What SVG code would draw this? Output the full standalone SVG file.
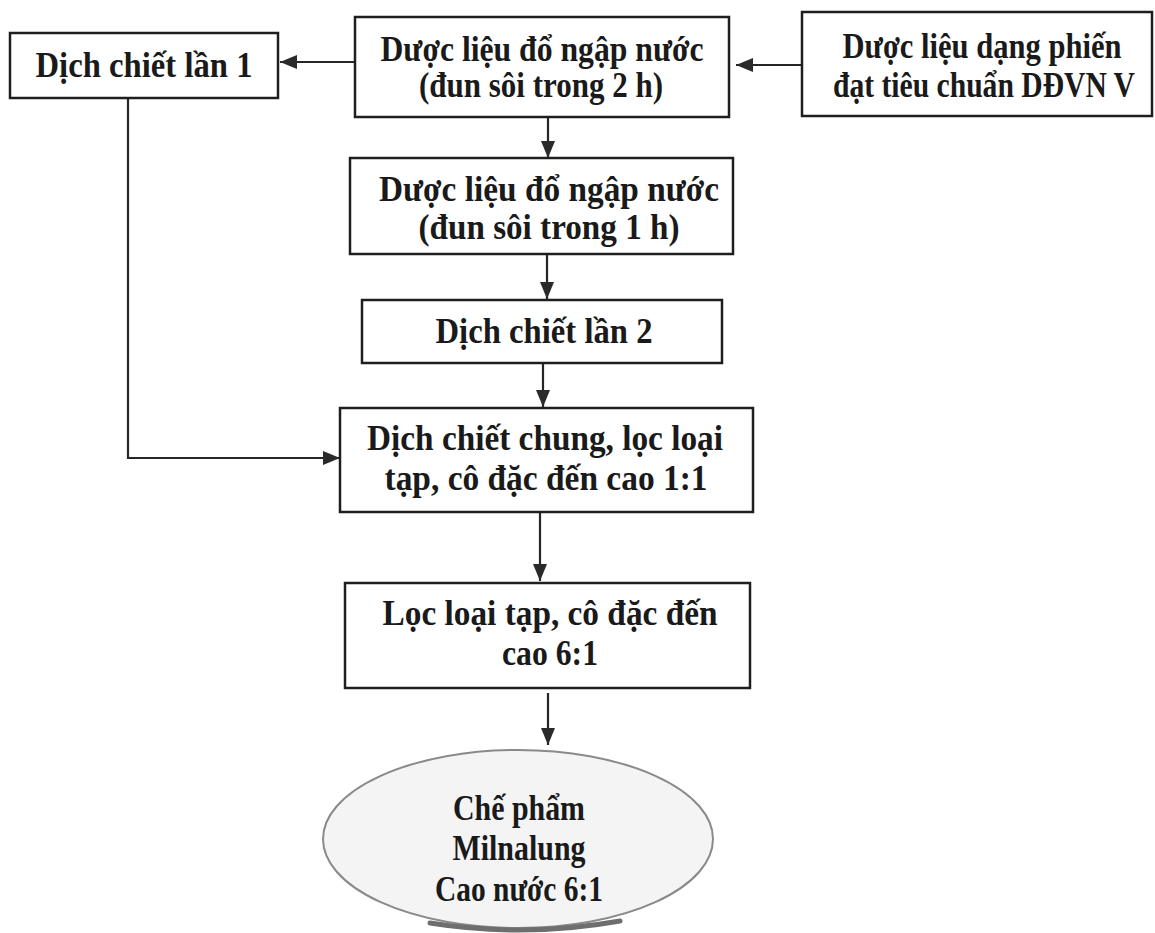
<svg xmlns="http://www.w3.org/2000/svg" width="1155" height="933" viewBox="0 0 1155 933">
<style>
.box{fill:#fff;stroke:#1e1e1e;stroke-width:2.5}
.t{font-family:"Liberation Serif","Times New Roman",serif;font-weight:bold;font-size:35px;fill:#1a1a1a;text-anchor:middle}
.c{fill:none;stroke:#262626;stroke-width:2.2}
</style>
<defs>
<marker id="ah" markerUnits="userSpaceOnUse" markerWidth="18" markerHeight="14" refX="17" refY="7" orient="auto">
<path d="M0,0 L17,7 L0,14 Z" fill="#2a2a2a"/>
</marker>
</defs>
<rect width="1155" height="933" fill="#fff"/>
<g id="connectors">
<line class="c" x1="355" y1="62" x2="280" y2="62" marker-end="url(#ah)"/>
<line class="c" x1="802" y1="65" x2="736" y2="65" marker-end="url(#ah)"/>
<line class="c" x1="548" y1="117" x2="548" y2="158" marker-end="url(#ah)"/>
<line class="c" x1="547" y1="254" x2="547" y2="299" marker-end="url(#ah)"/>
<line class="c" x1="543" y1="363" x2="543" y2="407" marker-end="url(#ah)"/>
<polyline class="c" points="128,98 128,458 340,458" marker-end="url(#ah)"/>
<line class="c" x1="540" y1="512" x2="540" y2="581" marker-end="url(#ah)"/>
<line class="c" x1="548" y1="693" x2="548" y2="745" marker-end="url(#ah)"/>
</g>
<g id="n1">
<rect class="box" x="10" y="33" width="268" height="65"/>
<text class="t" x="144" y="77" textLength="217" lengthAdjust="spacingAndGlyphs">Dịch chiết lần 1</text>
</g>
<g id="n2">
<rect class="box" x="355" y="17" width="374" height="100"/>
<text class="t" x="542" y="61" textLength="323" lengthAdjust="spacingAndGlyphs">Dược liệu đổ ngập nước</text>
<text class="t" x="541" y="97" textLength="244" lengthAdjust="spacingAndGlyphs">(đun sôi trong 2 h)</text>
</g>
<g id="n3">
<rect class="box" x="802" y="12" width="350" height="104"/>
<text class="t" x="982" y="58" textLength="279" lengthAdjust="spacingAndGlyphs">Dược liệu dạng phiến</text>
<text class="t" x="984" y="97" textLength="302" lengthAdjust="spacingAndGlyphs">đạt tiêu chuẩn DĐVN V</text>
</g>
<g id="n4">
<rect class="box" x="350" y="158" width="383" height="96"/>
<text class="t" x="549" y="201" textLength="340" lengthAdjust="spacingAndGlyphs">Dược liệu đổ ngập nước</text>
<text class="t" x="549" y="239" textLength="261" lengthAdjust="spacingAndGlyphs">(đun sôi trong 1 h)</text>
</g>
<g id="n5">
<rect class="box" x="362" y="300" width="360" height="63"/>
<text class="t" x="544" y="343" textLength="217" lengthAdjust="spacingAndGlyphs">Dịch chiết lần 2</text>
</g>
<g id="n6">
<rect class="box" x="340" y="408" width="413" height="104"/>
<text class="t" x="545" y="450" textLength="356" lengthAdjust="spacingAndGlyphs">Dịch chiết chung, lọc loại</text>
<text class="t" x="546" y="490" textLength="323" lengthAdjust="spacingAndGlyphs">tạp, cô đặc đến cao 1:1</text>
</g>
<g id="n7">
<rect class="box" x="345" y="583" width="405" height="105"/>
<text class="t" x="550" y="625" textLength="335" lengthAdjust="spacingAndGlyphs">Lọc loại tạp, cô đặc đến</text>
<text class="t" x="550" y="665" textLength="96" lengthAdjust="spacingAndGlyphs">cao 6:1</text>
</g>
<g id="n8">
<ellipse cx="518" cy="839" rx="195" ry="89" fill="#f4f4f4" stroke="#8a8a8a" stroke-width="2"/>
<path d="M430,923 Q525,938 620,921" fill="none" stroke="#6e6e6e" stroke-width="5" stroke-linecap="round"/>
<text class="t" x="519" y="820" textLength="132" lengthAdjust="spacingAndGlyphs">Chế phẩm</text>
<text class="t" x="519" y="860" textLength="133" lengthAdjust="spacingAndGlyphs">Milnalung</text>
<text class="t" x="519" y="901" textLength="168" lengthAdjust="spacingAndGlyphs">Cao nước 6:1</text>
</g>
</svg>
